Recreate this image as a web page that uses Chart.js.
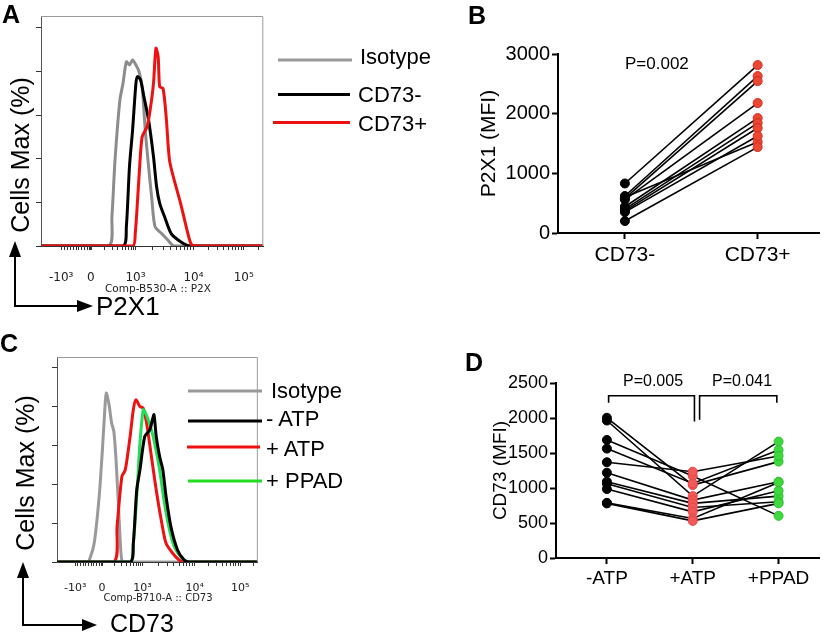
<!DOCTYPE html>
<html><head><meta charset="utf-8">
<script src="https://cdn.jsdelivr.net/npm/chart.js@4.4.1/dist/chart.umd.min.js"></script>
<style>
html,body{margin:0;padding:0;background:#fff;}
body{width:825px;height:636px;position:relative;overflow:hidden;font-family:"Liberation Sans",Arial,Helvetica,sans-serif;color:#000;}
canvas{position:absolute;}
.t{position:absolute;white-space:nowrap;color:#000;}
.L{font-weight:bold;font-size:25px;line-height:25px;}
.leg{font-size:22px;line-height:22px;}
.rot{position:absolute;white-space:nowrap;font-size:25px;line-height:25px;transform:translate(-50%,-50%) rotate(-90deg);}
.fj{position:absolute;white-space:nowrap;font-family:"DejaVu Sans",sans-serif;color:#222;transform:translateX(-50%);}
.pv{position:absolute;white-space:nowrap;transform:translateX(-50%);}
svg{position:absolute;left:0;top:0;}
</style>
</head><body>
<canvas id="cA"></canvas>
<canvas id="cB"></canvas>
<canvas id="cC"></canvas>
<canvas id="cD"></canvas>

<svg width="825" height="636" viewBox="0 0 825 636">
  <line x1="278" y1="60" x2="352" y2="60" stroke="#999" stroke-width="3"/>
  <line x1="278" y1="94.5" x2="350" y2="94.5" stroke="#000" stroke-width="3"/>
  <line x1="273" y1="122.5" x2="350" y2="122.5" stroke="#ee1111" stroke-width="3"/>
  <line x1="188" y1="391" x2="262" y2="391" stroke="#999" stroke-width="3"/>
  <line x1="188" y1="421" x2="262" y2="421" stroke="#000" stroke-width="3"/>
  <line x1="187" y1="447" x2="260" y2="447" stroke="#ee1111" stroke-width="3"/>
  <line x1="188" y1="481" x2="262" y2="481" stroke="#22dd22" stroke-width="3"/>
  <line x1="15" y1="306" x2="15" y2="254" stroke="#000" stroke-width="2"/>
  <polygon points="15,241 9,257 21,257" fill="#000"/>
  <line x1="14" y1="306" x2="80" y2="306" stroke="#000" stroke-width="2"/>
  <polygon points="93,306 77,300 77,312" fill="#000"/>
  <line x1="23" y1="625" x2="23" y2="575" stroke="#000" stroke-width="2"/>
  <polygon points="23,562 17,578 29,578" fill="#000"/>
  <line x1="22" y1="625" x2="85" y2="625" stroke="#000" stroke-width="2"/>
  <polygon points="97,625 82,619 82,631" fill="#000"/>
</svg>

<div class="t L" style="left:2px;top:2px">A</div>
<div class="t L" style="left:468px;top:3px">B</div>
<div class="t L" style="left:0px;top:331px">C</div>
<div class="t L" style="left:465px;top:350px">D</div>

<div class="rot" style="left:20px;top:155px">Cells Max (%)</div>
<div class="rot" style="left:25px;top:473px">Cells Max (%)</div>
<div class="t" style="left:96px;top:293px;font-size:26px;line-height:26px">P2X1</div>
<div class="t" style="left:110px;top:611px;font-size:25px;line-height:25px">CD73</div>

<div class="fj" style="left:158px;top:282px;font-size:10.5px;line-height:12px">Comp-B530-A :: P2X</div>
<div class="fj" style="left:158px;top:592px;font-size:10px;line-height:12px">Comp-B710-A :: CD73</div>

<div class="t leg" style="left:360px;top:46px">Isotype</div>
<div class="t leg" style="left:358px;top:84px">CD73-</div>
<div class="t leg" style="left:358px;top:113px">CD73+</div>

<div class="t leg" style="left:271px;top:380px">Isotype</div>
<div class="t leg" style="left:266px;top:408px">- ATP</div>
<div class="t leg" style="left:266px;top:438px">+ ATP</div>
<div class="t leg" style="left:266px;top:470px">+ PPAD</div>

<div class="t" style="left:625px;top:55px;font-size:17px;line-height:17px">P=0.002</div>
<div class="pv" style="left:653px;top:373px;font-size:16px;line-height:16px">P=0.005</div>
<div class="pv" style="left:742px;top:373px;font-size:16px;line-height:16px">P=0.041</div>

<script>
// ---------------- DATA ----------------
const HIST_TICK_LABELS = ['-10\u00B3', '0', '10\u00B3', '10\u2074', '10\u2075'];
const HIST_TICK_CH = [91, 224, 425, 686, 912];

const A_ISO_CH  = [0, 305, 319, 333, 355, 369, 384, 398, 412, 427, 441, 455, 470, 484, 499, 513, 542, 570, 599, 1000];
const A_ISO_Y   = [0, 0, 13.4, 39.4, 67, 74.6, 84.5, 83, 85.3, 83, 80, 73, 51.7, 36.4, 21, 8.9, 5.8, 2.8, 0, 0];
const A_NEG_CH  = [0, 369, 384, 398, 412, 427, 434, 448, 463, 484, 506, 520, 534, 556, 585, 628, 671, 1000];
const A_NEG_Y   = [0, 0, 8.9, 36.4, 53.2, 74.6, 77.7, 76.1, 68.5, 57.8, 41, 27.2, 19.6, 13.4, 5.8, 2, 0, 0];
const A_POS_CH  = [0, 412, 424, 441, 455, 477, 491, 506, 517, 527, 534, 549, 563, 578, 599, 628, 657, 678, 714, 1000];
const A_POS_Y   = [0, 0, 5.8, 31.8, 50.1, 54.7, 62.4, 74.6, 90.7, 86.8, 73, 72.3, 59.3, 39.4, 30.3, 19.6, 7.3, 0.5, 0, 0];

const C_ISO_CH  = [0, 150, 161, 185, 210, 226, 239, 245, 259, 272, 283, 294, 307, 320, 332, 1000];
const C_ISO_Y   = [0, 0, 1, 9.6, 33.7, 57.7, 80, 87, 81, 71.5, 67.2, 52.6, 26.8, 2.7, 0, 0];
const C_NOATP_CH = [0, 364, 380, 397, 413, 437, 462, 475, 483, 494, 511, 527, 543, 567, 600, 633, 657, 1000];
const C_NOATP_Y  = [0, 0, 9.6, 37.1, 47.4, 64.6, 68, 73.2, 75.8, 64.6, 54.3, 47.4, 33.7, 18.2, 6.2, 1, 0, 0];
const C_ATP_CH  = [0, 283, 299, 323, 340, 364, 380, 393, 413, 429, 446, 470, 494, 519, 543, 576, 608, 633, 1000];
const C_ATP_Y   = [0, 0, 18.2, 44, 47.4, 64.6, 78.4, 83.5, 80, 79.2, 71.5, 54.3, 37.1, 21.6, 9.6, 4.5, 1, 0, 0];
const C_PPAD_CH = [0, 364, 380, 397, 413, 429, 437, 454, 470, 486, 511, 535, 560, 584, 616, 657, 1000];
const C_PPAD_Y  = [0, 0, 9.6, 33.7, 61.2, 78.4, 77.5, 73.2, 68, 61.2, 47.4, 30.2, 16.5, 7.9, 2.7, 0, 0];

const B_CATEGORIES = ['CD73-', 'CD73+'];
const B_CD73NEG = [830, 620, 580, 560, 440, 400, 370, 600, 350, 200];
const B_CD73POS = [2814, 2630, 2546, 2178, 1926, 1842, 1759, 1524, 1625, 1440];
const B_YTICKS = [0, 1000, 2000, 3000];

const D_CATEGORIES = ['-ATP', '+ATP', '+PPAD'];
const D_NOATP = [2003, 1964, 1687, 1563, 1368, 1218, 1090, 1060, 985, 788, 780];
const D_ATP   = [1042, 884, 1171, 1066, 1233, 827, 780, 722, 659, 564, 530];
const D_PPAD  = [1377, 1663, 602, 1544, 1458, 1090, 884, 803, 961, 1080, 780];
const D_YTICKS = [0, 500, 1000, 1500, 2000, 2500];

// ---------------- CHART HELPERS ----------------
Chart.defaults.font.family = '"Liberation Sans", Arial, Helvetica, sans-serif';
Chart.defaults.color = '#000';
Chart.defaults.animation = false;

function place(id, box) {
  const cv = document.getElementById(id);
  cv.width = box.w; cv.height = box.h;
  cv.style.left = box.x + 'px'; cv.style.top = box.y + 'px';
  cv.style.width = box.w + 'px'; cv.style.height = box.h + 'px';
  return cv;
}

function histMinorTicks() {
  const [n3, z, p3, p4, p5] = HIST_TICK_CH;
  const out = [z - 4, z - 2, z + 2, z + 4];
  for (let k = 1; k <= 9; k++) out.push(z - (z - n3) * k / 10);
  for (let k = 2; k <= 9; k++) {
    out.push(z + (p3 - z) * Math.log10(k));
    out.push(p3 + (p4 - p3) * Math.log10(k));
    out.push(p4 + (p5 - p4) * Math.log10(k));
  }
  out.push(p5 + (p5 - p4) * Math.log10(2));
  return out;
}

const framePlugin = {
  id: 'frame',
  afterDraw(chart, args, opts) {
    if (!opts || !opts.color) return;
    const {ctx, chartArea: a} = chart;
    ctx.save();
    ctx.strokeStyle = opts.color; ctx.lineWidth = 1;
    ctx.beginPath();
    ctx.moveTo(a.left, a.top + 0.5); ctx.lineTo(a.right - 0.5, a.top + 0.5); ctx.lineTo(a.right - 0.5, a.bottom);
    ctx.stroke();
    ctx.restore();
  }
};

function series(chs, ys, color, order) {
  return {
    data: chs.map((c, i) => ({x: c, y: ys[i]})),
    borderColor: color, borderWidth: 3, pointRadius: 0, tension: 0.25,
    fill: false, order: order
  };
}

function histChart(id, box, area, datasets, tickFont, tickPad) {
  const cv = place(id, box);
  const majors = HIST_TICK_CH.slice();
  const all = majors.concat(histMinorTicks()).sort((a, b) => a - b);
  return new Chart(cv, {
    type: 'line',
    data: {datasets},
    plugins: [framePlugin],
    options: {
      responsive: false, animation: false,
      layout: {padding: {left: 0, top: area.top - box.y, right: box.x + box.w - area.right, bottom: 0}},
      plugins: {legend: {display: false}, tooltip: {enabled: false}, frame: {color: '#9a9a9a'}},
      scales: {
        x: {
          type: 'linear', min: 0, max: 1000,
          afterBuildTicks: s => { s.ticks = all.map(v => ({value: v})); },
          ticks: {
            autoSkip: false, maxRotation: 0, minRotation: 0, padding: tickPad,
            font: {family: '"DejaVu Sans", sans-serif', size: tickFont}, color: '#222',
            callback: v => { const i = majors.indexOf(v); return i >= 0 ? HIST_TICK_LABELS[i] : ''; }
          },
          grid: {drawOnChartArea: false, tickLength: 4, color: '#333'},
          border: {color: '#333', width: 1},
          afterFit: s => { s.height = box.y + box.h - area.bottom; }
        },
        y: {
          min: 0, max: 105.5,
          afterBuildTicks: s => { s.ticks = [0, 20, 40, 60, 80, 100].map(v => ({value: v})); },
          ticks: {display: false},
          grid: {drawOnChartArea: false, tickLength: 5, color: '#333'},
          border: {color: '#555', width: 1},
          afterFit: s => { s.width = area.left - box.x; }
        }
      }
    }
  });
}

histChart('cA', {x: 0, y: 0, w: 280, h: 300}, {left: 41, top: 16, right: 273, bottom: 246}, [
  series(A_POS_CH, A_POS_Y, '#ee1111', 0),
  series(A_NEG_CH, A_NEG_Y, '#000000', 1),
  series(A_ISO_CH, A_ISO_Y, '#8c8c8c', 2)
], 12, 21);

histChart('cC', {x: 0, y: 345, w: 270, h: 260}, {left: 57, top: 357, right: 262, bottom: 562}, [
  series(C_NOATP_CH, C_NOATP_Y, '#000000', 0),
  series(C_PPAD_CH, C_PPAD_Y, '#22dd55', 1),
  series(C_ATP_CH, C_ATP_Y, '#ee1111', 2),
  series(C_ISO_CH, C_ISO_Y, '#999999', 3)
], 11, 16);

function pairedChart(id, box, area, padLeft, cfg) {
  const cv = place(id, box);
  return new Chart(cv, {
    type: 'line',
    data: {datasets: cfg.datasets},
    options: {
      responsive: false, animation: false,
      layout: {padding: {left: padLeft, top: area.top - box.y, right: box.x + box.w - area.right, bottom: 0}},
      plugins: {legend: {display: false}, tooltip: {enabled: false}},
      scales: {
        x: {
          type: 'linear', min: cfg.xmin, max: cfg.xmax,
          afterBuildTicks: s => { s.ticks = cfg.categories.map((c, i) => ({value: cfg.x0 + i})); },
          ticks: {
            autoSkip: false, maxRotation: 0, minRotation: 0, padding: cfg.xPad,
            font: {size: cfg.xFont}, color: '#000',
            callback: v => cfg.categories[Math.round(v - cfg.x0)]
          },
          grid: {drawOnChartArea: false, tickLength: 6, color: '#000', tickWidth: 2},
          border: {color: '#000', width: 2},
          afterFit: s => { s.height = box.y + box.h - area.bottom; }
        },
        y: {
          min: 0, max: cfg.ymax,
          afterBuildTicks: s => { s.ticks = cfg.yticks.map(v => ({value: v})); },
          ticks: {font: {size: cfg.yFont}, color: '#000', padding: 2, callback: v => String(v)},
          grid: {drawOnChartArea: false, tickLength: 6, color: '#000', tickWidth: 2},
          border: {color: '#000', width: 2},
          title: {display: true, text: cfg.ytitle, font: {size: cfg.titleFont}, color: '#000', padding: 0},
          afterFit: s => { s.width = area.left - box.x - padLeft; }
        }
      }
    }
  });
}

function pointSet(xs, ys, fill, stroke, order) {
  return {
    data: ys.map((y) => ({x: xs, y})), showLine: false,
    pointRadius: 4.5, pointBackgroundColor: fill, pointBorderColor: stroke, pointBorderWidth: 1,
    borderColor: stroke, order
  };
}
function lineSet(points, order, width) {
  return {data: points, borderColor: '#000', borderWidth: width, pointRadius: 0, tension: 0, fill: false, order};
}

const bSets = [
  pointSet(1, B_CD73NEG, '#000000', '#000000', 0),
  pointSet(2, B_CD73POS, '#ec4634', '#d22a1a', 0)
];
B_CD73NEG.forEach((v, i) => bSets.push(lineSet([{x: 1, y: v}, {x: 2, y: B_CD73POS[i]}], 2, 1.6)));
pairedChart('cB', {x: 420, y: 0, w: 405, h: 290}, {left: 558, top: 54, right: 820, bottom: 233}, 57, {
  categories: B_CATEGORIES, x0: 1, xmin: 0.496, xmax: 2.466, ymax: 3000, yticks: B_YTICKS,
  ytitle: 'P2X1 (MFI)', xFont: 21, yFont: 20, titleFont: 21, xPad: 4, datasets: bSets
});

const dSets = [
  pointSet(0, D_NOATP, '#000000', '#000000', 0),
  pointSet(1, D_ATP, '#f25a5a', '#e84545', 0),
  pointSet(2, D_PPAD, '#3fd83f', '#2cc02c', 0)
];
D_NOATP.forEach((v, i) => dSets.push(lineSet([{x: 0, y: v}, {x: 1, y: D_ATP[i]}, {x: 2, y: D_PPAD[i]}], 2, 1.6)));
dSets.push(lineSet([{x: 0.02, y: 2218}, {x: 0.02, y: 2318}, {x: 1.02, y: 2318}, {x: 1.02, y: 1950}], 3, 1.6));
dSets.push(lineSet([{x: 1.08, y: 1975}, {x: 1.08, y: 2318}, {x: 1.98, y: 2318}, {x: 1.98, y: 2218}], 3, 1.6));
pairedChart('cD', {x: 420, y: 320, w: 405, h: 316}, {left: 556, top: 383, right: 820, bottom: 558}, 69, {
  categories: D_CATEGORIES, x0: 0, xmin: -0.593, xmax: 2.477, ymax: 2500, yticks: D_YTICKS,
  ytitle: 'CD73 (MFI)', xFont: 19, yFont: 18, titleFont: 19, xPad: 3, datasets: dSets
});
</script>
</body></html>
